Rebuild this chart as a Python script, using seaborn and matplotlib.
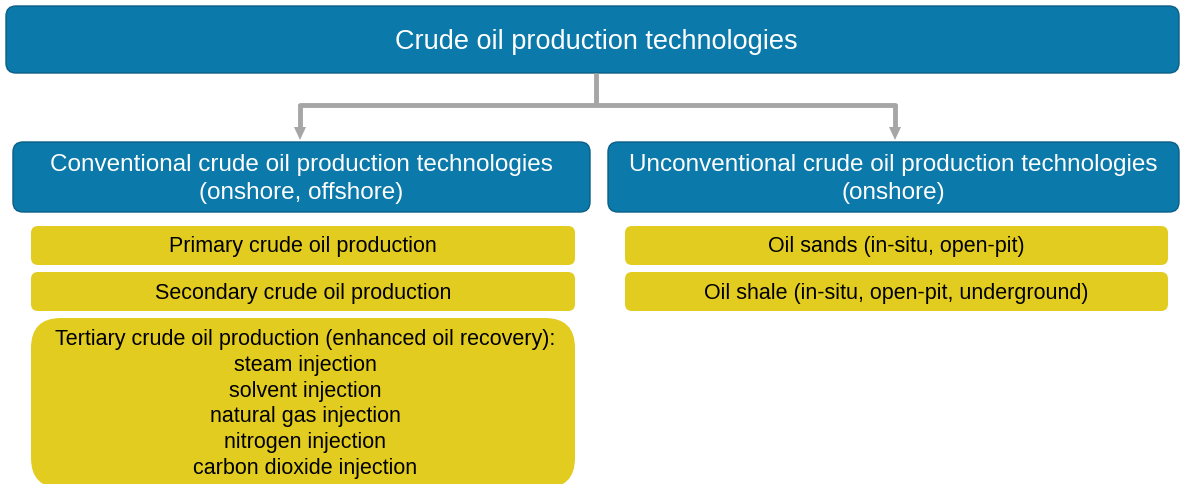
import matplotlib
matplotlib.use("Agg")
import matplotlib.pyplot as plt
import seaborn as sns
from matplotlib.patches import FancyBboxPatch, Polygon

sns.set_theme(style="white")
plt.rcParams['font.family'] = ['Liberation Sans', 'DejaVu Sans']

# ---- content ----
root_label = "Crude oil production technologies"
branch_labels = ["Conventional crude oil production technologies\n(onshore, offshore)",
                 "Unconventional crude oil production technologies\n(onshore)"]
left_items = ["Primary crude oil production",
              "Secondary crude oil production",
              "Tertiary crude oil production (enhanced oil recovery):\nsteam injection\nsolvent injection\nnatural gas injection\nnitrogen injection\ncarbon dioxide injection"]
right_items = ["Oil sands (in-situ, open-pit)",
               "Oil shale (in-situ, open-pit, underground)"]

# ---- layout (pixels, y downward) ----
W, H = 1180, 484
BLUE = "#0b79a9"
BLUE_EDGE = "#0a5f86"
YELLOW = "#e3cc20"
GRAY = "#a6a6a6"

fig = plt.figure(figsize=(W / 100, H / 100), dpi=100)
ax = fig.add_axes([0, 0, 1, 1])
ax.set_xlim(0, W)
ax.set_ylim(H, 0)
ax.axis("off")


def box(x0, y0, x1, y1, color, r, edge=None, text=None, size=15.5, tcolor="black",
        ls=1.0, ty=None, tx=None):
    p = FancyBboxPatch((x0 + r, y0 + r), (x1 - x0) - 2 * r, (y1 - y0) - 2 * r,
                       boxstyle=f"round,pad={r}", facecolor=color,
                       edgecolor=edge if edge else color, linewidth=1.0 if edge else 0,
                       mutation_aspect=1)
    ax.add_patch(p)
    if text is not None:
        cx = tx if tx is not None else (x0 + x1) / 2
        cy = ty if ty is not None else (y0 + y1) / 2
        ax.text(cx, cy, text, ha="center", va="center",
                fontsize=size, color=tcolor, linespacing=ls)


# root
box(6, 6, 1179, 73, BLUE, 10, BLUE_EDGE, root_label, size=19.5, tcolor="white", ty=42, tx=596)

# connectors
lw = 3.5
ax.plot([596, 596], [73, 105], color=GRAY, lw=lw, solid_capstyle="butt")
ax.plot([300, 895], [105, 105], color=GRAY, lw=lw, solid_joinstyle="miter")
for xa in (300, 895):
    ax.plot([xa, xa], [103.5, 130], color=GRAY, lw=lw, solid_capstyle="butt")
    ax.add_patch(Polygon([[xa - 6, 127], [xa + 6, 127], [xa, 140]], closed=True,
                         facecolor=GRAY, edgecolor="none"))

# branches
box(13, 142, 590, 212, BLUE, 10, BLUE_EDGE, branch_labels[0], size=17.5, tcolor="white",
    ls=1.39, ty=179)
box(608, 142, 1179, 212, BLUE, 10, BLUE_EDGE, branch_labels[1], size=17.5, tcolor="white",
    ls=1.39, ty=179)

# left items
box(31, 226, 575, 265, YELLOW, 7, None, left_items[0], ty=246.5)
box(31, 272, 575, 311, YELLOW, 7, None, left_items[1], ty=293.5)
box(31, 318, 575, 488, YELLOW, 30, None, left_items[2], ls=1.3, ty=404, tx=305)

# right items
box(625, 226, 1168, 265, YELLOW, 7, None, right_items[0], ty=246.5)
box(625, 272, 1168, 311, YELLOW, 7, None, right_items[1], ty=293.5)

fig.savefig("out.png", dpi=100, facecolor="white")
